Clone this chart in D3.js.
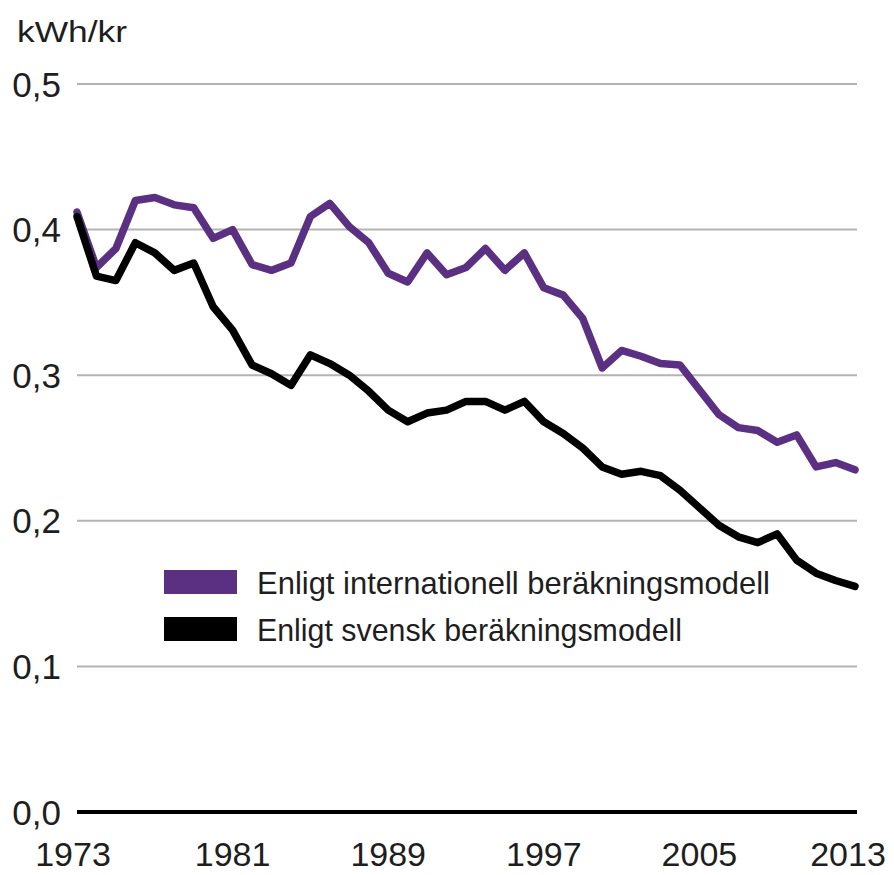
<!DOCTYPE html>
<html>
<head>
<meta charset="utf-8">
<script src="https://cdn.jsdelivr.net/npm/d3@7"></script>
<style>
  body { margin: 0; background: #fff; }
  text { font-family: "Liberation Sans", "DejaVu Sans", sans-serif; fill: #1e1e1e; }
  .grid line { stroke: #b3b3b3; stroke-width: 2px; }
  .series { fill: none; stroke-width: 7.5px; stroke-linejoin: round; stroke-linecap: round; }
</style>
</head>
<body>
<script>
// Data (kWh per krona)
var years = d3.range(1973, 2014);

var international = [
  0.412, 0.374, 0.387, 0.420, 0.422, 0.417, 0.415, 0.394, 0.400, 0.376,
  0.372, 0.377, 0.409, 0.418, 0.402, 0.391, 0.370, 0.364, 0.384, 0.369,
  0.374, 0.387, 0.372, 0.384, 0.360, 0.355, 0.339, 0.305, 0.317, 0.313,
  0.308, 0.307, 0.290, 0.273, 0.264, 0.262, 0.254, 0.259, 0.237, 0.240,
  0.235
];

var svensk = [
  0.409, 0.368, 0.365, 0.391, 0.384, 0.372, 0.377, 0.347, 0.331, 0.307,
  0.301, 0.293, 0.314, 0.308, 0.300, 0.289, 0.276, 0.268, 0.274, 0.276,
  0.282, 0.282, 0.276, 0.282, 0.268, 0.260, 0.250, 0.237, 0.232, 0.234,
  0.231, 0.221, 0.209, 0.197, 0.189, 0.185, 0.191, 0.173, 0.164, 0.159,
  0.155
];

var yTicks = [0, 0.1, 0.2, 0.3, 0.4, 0.5];
var xTicks = [1973, 1981, 1989, 1997, 2005, 2013];
var seriesNames = ["Enligt internationell beräkningsmodell", "Enligt svensk beräkningsmodell"];
var seriesColors = ["#5b3083", "#000000"];

var width = 894,
    height = 875;

var x = d3.scaleLinear().domain([1973, 2013]).range([77, 855]);
var y = d3.scaleLinear().domain([0, 0.5]).range([812, 84]);

var svg = d3.select("body").append("svg")
    .attr("width", width)
    .attr("height", height);

// unit label
svg.append("text")
    .attr("x", 17)
    .attr("y", 42)
    .attr("font-size", 29)
    .attr("textLength", 110)
    .attr("lengthAdjust", "spacingAndGlyphs")
    .text("kWh/kr");

// horizontal gridlines
var grid = svg.append("g").attr("class", "grid");
grid.selectAll("line")
    .data(yTicks.filter(d => d > 0))
    .enter().append("line")
    .attr("x1", 77)
    .attr("x2", 857)
    .attr("y1", d => y(d))
    .attr("y2", d => y(d));

// y tick labels
svg.append("g").selectAll("text")
    .data(yTicks)
    .enter().append("text")
    .attr("x", 61)
    .attr("y", d => y(d))
    .attr("dy", "0.36em")
    .attr("text-anchor", "end")
    .attr("font-size", 35)
    .text(d => d3.format(".1f")(d).replace(".", ","));

// series lines
var line = d3.line()
    .x((d, i) => x(years[i]))
    .y(d => y(d));

[international, svensk].forEach(function (vals, i) {
    svg.append("path")
        .datum(vals)
        .attr("class", "series")
        .attr("stroke", seriesColors[i])
        .attr("d", line);
});

// zero baseline
svg.append("line")
    .attr("x1", 77)
    .attr("x2", 857)
    .attr("y1", y(0))
    .attr("y2", y(0))
    .attr("stroke", "#000")
    .attr("stroke-width", 4);

// x tick labels
svg.append("g").selectAll("text")
    .data(xTicks)
    .enter().append("text")
    .attr("x", d => x(d))
    .attr("dx", (d, i) => i === 0 ? -4 : (i === xTicks.length - 1 ? -7 : 0))
    .attr("y", 866)
    .attr("text-anchor", "middle")
    .attr("font-size", 34)
    .text(d => d);

// legend
var legend = svg.append("g").attr("transform", "translate(164,570)");
var legendLengths = [513, 425];
seriesNames.forEach(function (name, i) {
    var row = legend.append("g").attr("transform", "translate(0," + (i * 47) + ")");
    row.append("rect")
        .attr("width", 73)
        .attr("height", 24)
        .attr("fill", seriesColors[i]);
    row.append("text")
        .attr("x", 93)
        .attr("y", 24)
        .attr("font-size", 32)
        .attr("textLength", legendLengths[i])
        .attr("lengthAdjust", "spacingAndGlyphs")
        .text(name);
});
</script>
</body>
</html>
